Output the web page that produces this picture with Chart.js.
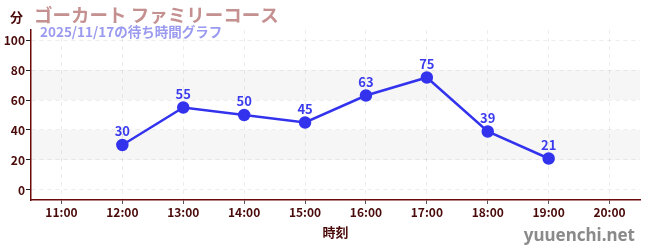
<!DOCTYPE html>
<html><head><meta charset="utf-8">
<script src="https://cdn.jsdelivr.net/npm/chart.js@4/dist/chart.umd.min.js"></script>
<style>html,body{margin:0;padding:0;background:#fff}#wrap{width:650px;height:250px;position:relative}</style>
</head><body><div id="wrap"><canvas id="c" width="650" height="250"></canvas></div>
<script>
const categories = ["11:00","12:00","13:00","14:00","15:00","16:00","17:00","18:00","19:00","20:00"];
const waitTimes = [null,30,55,50,45,63,75,39,21,null];
const yTicks = [0,20,40,60,80,100];
const titleText = "ゴーカート ファミリーコース";
const subtitleText = "2025/11/17の待ち時間グラフ";
const unitText = "分";
const xTitle = "時刻";
const watermark = "yuuenchi.net";

const JP = '"Noto Sans CJK JP","Noto Sans",sans-serif';
const dark = '#4a0a0a';

const deco = {
  id:'deco',
  beforeDatasetsDraw(chart){
    const {ctx, chartArea:a, scales:{y}} = chart;
    ctx.save();
    ctx.fillStyle = 'rgba(0,0,0,0.035)';
    [[20,40],[60,80]].forEach(([lo,hi])=>{
      const t=y.getPixelForValue(hi), b=y.getPixelForValue(lo);
      ctx.fillRect(a.left, t, a.right-a.left, b-t);
    });
    ctx.restore();
  },
  afterDraw(chart){
    const {ctx, data} = chart;
    ctx.save();
    const meta = chart.getDatasetMeta(0);
    ctx.font = 'bold 13px '+JP;
    ctx.fillStyle = '#3b3bee';
    ctx.textAlign='center'; ctx.textBaseline='bottom';
    meta.data.forEach((p,i)=>{
      const v = data.datasets[0].data[i];
      if(v==null) return;
      ctx.fillText(String(v), p.x, p.y-7);
    });
    ctx.textAlign='left'; ctx.textBaseline='alphabetic';
    ctx.font = 'bold 18.5px '+JP;
    ctx.fillStyle = '#c49090';
    ctx.fillText(titleText, 34, 22);
    ctx.font = 'bold 13.5px '+JP;
    ctx.fillStyle = '#9a9af0';
    ctx.fillText(subtitleText, 40, 37);
    ctx.font = 'bold 13px '+JP;
    ctx.fillStyle = dark;
    ctx.fillText(unitText, 10, 22);
    ctx.font = 'bold 17px "Noto Sans",sans-serif';
    ctx.fillStyle = '#8a8a8a';
    ctx.textAlign='right';
    ctx.fillText(watermark, 635, 241);
    ctx.restore();
  }
};

new Chart(document.getElementById('c'), {
  type:'line',
  data:{labels:categories, datasets:[{
    data:waitTimes, borderColor:'#3333ee', backgroundColor:'#3333ee',
    borderWidth:2.5, pointRadius:5, pointHoverRadius:5, tension:0, spanGaps:false
  }]},
  options:{
    responsive:false, animation:false,
    layout:{padding:{top:30,right:10,left:0,bottom:0}},
    plugins:{legend:{display:false}, tooltip:{enabled:false}},
    scales:{
      x:{
        offset:true,
        afterFit(s){ s.height = 50; },
        grid:{color:'rgba(0,0,0,0.07)', tickColor:'#555', tickLength:4, offset:false, drawTicks:true},
        border:{color:'#6a0a0a', width:1.5, dash:[4,4]},
        ticks:{color:dark, font:{family:JP, size:12, weight:'bold'}, padding:1, maxRotation:0},
        title:{display:true, text:xTitle, color:dark, font:{family:JP,size:13,weight:'bold'}, padding:{top:4,bottom:10}}
      },
      y:{
        min:-6.67, max:106.67,
        afterFit(s){ s.width = 31; },
        afterBuildTicks(s){ s.ticks = [0,10,20,30,40,50,60,70,80,90,100].map(v=>({value:v})); },
        grid:{
          color:c=> (c.tick && c.tick.value%20===0) ? 'rgba(0,0,0,0.07)' : 'transparent',
          tickColor:c=> (c.tick && c.tick.value%20===0) ? '#222' : '#e03030',
          tickLength:5
        },
        border:{color:'#6a0a0a', width:1.5, dash:[4,4]},
        ticks:{color:dark, font:{family:JP,size:12,weight:'bold'}, padding:1,
          callback:(v)=> yTicks.includes(v) ? String(v) : ''}
      }
    }
  },
  plugins:[deco]
});
</script></body></html>
